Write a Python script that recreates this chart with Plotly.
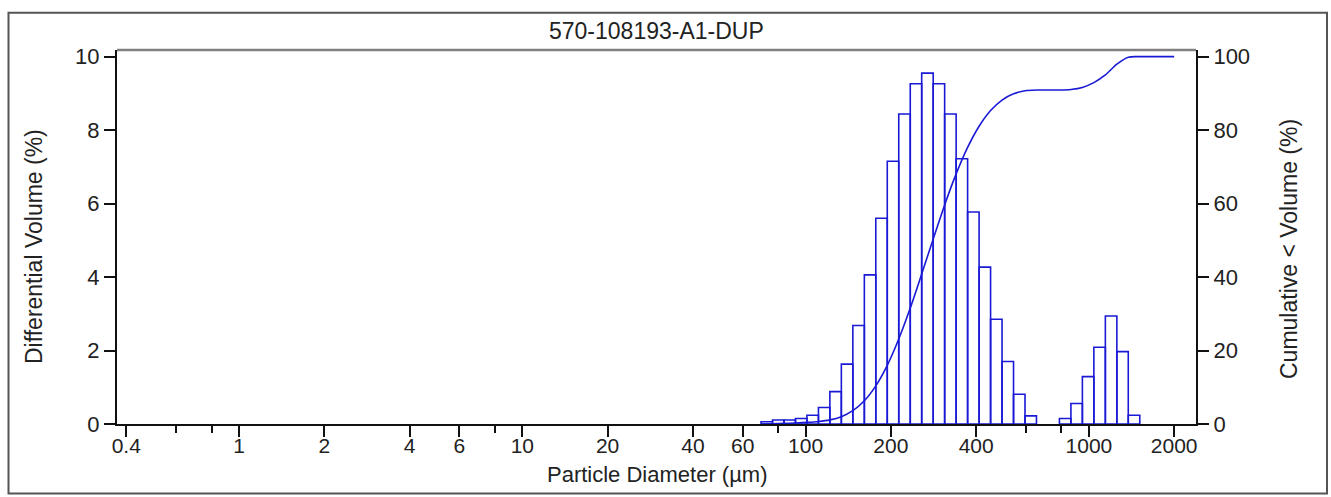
import plotly.graph_objects as go

# ---------------- data ----------------
title_text = "570-108193-A1-DUP"

# channel edges (um) for the plotted bins
channel_edges_um = [69.61, 76.42, 83.89, 92.09, 101.1, 111.0, 121.8, 133.7, 146.8, 161.2,
                    176.9, 194.2, 213.2, 234.1, 256.9, 282.1, 309.6, 339.9, 373.1, 409.6,
                    449.7, 493.6, 541.9, 594.9, 653.0, 716.9, 786.9, 863.9, 948.3, 1041,
                    1143, 1255, 1377, 1512]
# differential volume (%) per bin
diff_volume_pct = [0.06, 0.11, 0.11, 0.15, 0.24, 0.45, 0.88, 1.63, 2.68, 4.06,
                   5.60, 7.15, 8.44, 9.26, 9.55, 9.26, 8.44, 7.22, 5.77, 4.27,
                   2.85, 1.70, 0.81, 0.22, 0.0, 0.0, 0.15, 0.56, 1.29, 2.09,
                   2.94, 1.97, 0.24]

# cumulative < volume (%)
cum_diameter_um = [69.61, 76.42, 83.89, 92.09, 101.1, 111.0, 121.8, 133.7, 146.8, 161.2,
                   176.9, 194.2, 213.2, 234.1, 256.9, 282.1, 309.6, 339.9, 373.1, 409.6,
                   449.7, 493.6, 541.9, 594.9, 653.0, 716.9, 786.9, 863.9, 948.3, 1041,
                   1143, 1255, 1377, 1512, 1660, 1822, 2000]
cum_volume_pct = [0.0, 0.06, 0.17, 0.28, 0.43, 0.67, 1.12, 2.00, 3.63, 6.31,
                  10.37, 15.97, 23.12, 31.56, 40.82, 50.37, 59.63, 68.07, 75.29, 81.06,
                  85.33, 88.18, 89.88, 90.69, 90.91, 90.91, 90.91, 91.06, 91.62, 92.91,
                  95.00, 97.94, 99.85, 100.0, 100.0, 100.0, 100.0]

x_tick_vals = [0.4, 1, 2, 4, 6, 10, 20, 40, 60, 100, 200, 400, 1000, 2000]
x_tick_text = ["0.4", "1", "2", "4", "6", "10", "20", "40", "60", "100", "200", "400", "1000", "2000"]
x_minor_vals = [0.6, 0.8, 8, 80, 600, 800]
y_left_ticks = [0, 2, 4, 6, 8, 10]
y_right_ticks = [0, 20, 40, 60, 80, 100]

# ---------------- styling ----------------
W, H = 1331, 497
ML, MR, MT, MB = 117, 135, 50, 73
PW, PH = W - ML - MR, H - MT - MB
BLUE = "#1a1ad6"
FONT = "Liberation Sans, Arial, sans-serif"
TXT = "#222222"


def px_x(x):
    return (x - ML) / PW


def px_y(y):
    return (H - MB - y) / PH


# build outlined bars as closed rectangles
bx, by = [], []
for i, v in enumerate(diff_volume_pct):
    if v <= 0:
        continue
    lo, hi = channel_edges_um[i], channel_edges_um[i + 1]
    bx += [lo, lo, hi, hi, lo, None]
    by += [0, v, v, 0, 0, None]

fig = go.Figure()
fig.add_trace(go.Scatter(x=bx, y=by, mode="lines", fill="toself", fillcolor="white",
                         line=dict(color=BLUE, width=1.6), showlegend=False,
                         hoverinfo="skip", connectgaps=False))
fig.add_trace(go.Scatter(x=cum_diameter_um, y=cum_volume_pct, mode="lines",
                         line=dict(color=BLUE, width=1.6, shape="spline", smoothing=0.8),
                         yaxis="y2", showlegend=False))

axis_font = dict(family=FONT, size=22, color=TXT)
xtick_font = dict(family=FONT, size=21, color=TXT)

fig.update_layout(
    width=W, height=H,
    margin=dict(l=ML, r=MR, t=MT, b=MB),
    paper_bgcolor="white", plot_bgcolor="white",
    font=dict(family=FONT, size=22, color=TXT),
    xaxis=dict(type="log", range=[-0.4306, 3.378], tickmode="array",
               tickvals=x_tick_vals, ticktext=x_tick_text, ticks="outside", ticklen=11,
               tickwidth=1.5, tickcolor="#111", showline=True, linecolor="#111", linewidth=2,
               showgrid=False, zeroline=False, tickfont=xtick_font, ticklabelstandoff=-9,
               minor=dict(tickmode="array", tickvals=x_minor_vals, ticks="outside",
                          ticklen=7, tickwidth=1.5, tickcolor="#111", showgrid=False)),
    yaxis=dict(range=[0, 10.18], tickmode="array", tickvals=y_left_ticks,
               ticks="outside", ticklen=11, tickwidth=1.5, tickcolor="#111",
               showline=True, linecolor="#111", linewidth=2, showgrid=False,
               zeroline=False, tickfont=axis_font),
    yaxis2=dict(range=[0, 101.8], tickmode="array", tickvals=y_right_ticks,
                overlaying="y", side="right", ticks="outside", ticklen=11, tickwidth=1.5,
                tickcolor="#111", showline=True, linecolor="#111", linewidth=2,
                showgrid=False, zeroline=False, tickfont=axis_font),
    shapes=[
        dict(type="line", xref="paper", yref="paper", x0=0, x1=1, y0=1, y1=1,
             line=dict(color="#808080", width=2.5)),
        dict(type="rect", xref="paper", yref="paper",
             x0=px_x(8.5), x1=px_x(1327), y0=px_y(493.5), y1=px_y(12.7),
             line=dict(color="#555555", width=2), fillcolor="rgba(0,0,0,0)", layer="below"),
    ],
    annotations=[
        dict(text=title_text, xref="paper", yref="paper", x=0.5, y=px_y(31),
             xanchor="center", yanchor="middle", showarrow=False,
             font=dict(family=FONT, size=23, color=TXT)),
        dict(text="Particle Diameter (µm)", xref="paper", yref="paper", x=0.5, y=px_y(475),
             xanchor="center", yanchor="middle", showarrow=False,
             font=dict(family=FONT, size=22, color=TXT)),
        dict(text="Differential Volume (%)", xref="paper", yref="paper", x=px_x(34),
             y=px_y(247), xanchor="center", yanchor="middle", textangle=-90,
             showarrow=False, font=dict(family=FONT, size=23, color=TXT)),
        dict(text="Cumulative &lt; Volume (%)", xref="paper", yref="paper", x=px_x(1289),
             y=px_y(249), xanchor="center", yanchor="middle", textangle=-90,
             showarrow=False, font=dict(family=FONT, size=23, color=TXT)),
    ],
)

fig.write_html("out.html")
